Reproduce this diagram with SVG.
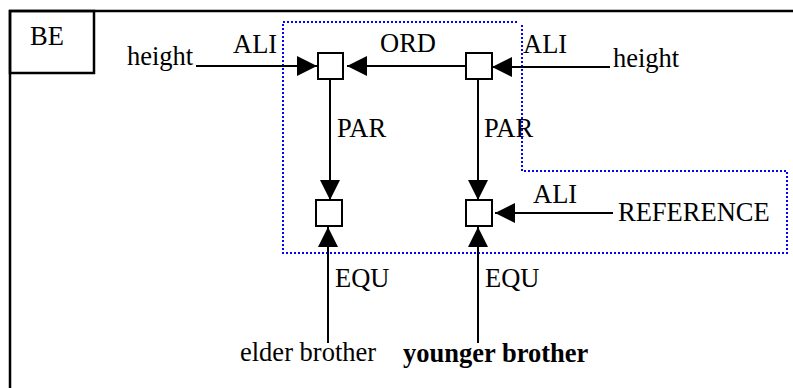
<svg xmlns="http://www.w3.org/2000/svg" width="793" height="388" viewBox="0 0 793 388">
<style>
  .t { font-family: "Liberation Serif", "Times New Roman", serif; font-size: 26.5px; fill: #000; }
  .b { font-weight: bold; }
  .box { fill: #fff; stroke: #000; stroke-width: 2; }
  .ln { stroke: #000; stroke-width: 2; fill: none; }
  .frame { stroke: #000; stroke-width: 2.5; fill: none; }
  .dot { stroke: #0000ff; stroke-width: 2; stroke-dasharray: 2 2; fill: none; }
</style>
<defs>
  <marker id="ah" markerUnits="userSpaceOnUse" markerWidth="20" markerHeight="20" viewBox="0 0 20 20" refX="20" refY="10" orient="auto">
    <path d="M0,0 L20,10 L0,20 Z" fill="#000"/>
  </marker>
</defs>
<rect width="793" height="388" fill="#fff"/>
<g id="frame">
  <path class="frame" d="M10,388 V11 H793"/>
  <rect class="frame" x="10" y="11" width="84" height="62" fill="none"/>
  <text class="t" x="30" y="45">BE</text>
</g>
<g id="scope">
  <path class="dot" d="M522,25 V171 H787 V253 H283 V22 H517"/>
</g>
<g id="connectors">
  <line class="ln" x1="196" y1="66" x2="317" y2="66" marker-end="url(#ah)"/>
  <line class="ln" x1="466" y1="66" x2="347" y2="66" marker-end="url(#ah)"/>
  <line class="ln" x1="610" y1="67" x2="492" y2="67" marker-end="url(#ah)"/>
  <line class="ln" x1="330" y1="79" x2="330" y2="200" marker-end="url(#ah)"/>
  <line class="ln" x1="478" y1="79" x2="478" y2="200" marker-end="url(#ah)"/>
  <line class="ln" x1="613" y1="213" x2="495" y2="213" marker-end="url(#ah)"/>
  <line class="ln" x1="328" y1="343" x2="328" y2="227" marker-end="url(#ah)"/>
  <line class="ln" x1="478" y1="343" x2="478" y2="227" marker-end="url(#ah)"/>
  <text class="t" x="233" y="53">ALI</text>
  <text class="t" x="380" y="52">ORD</text>
  <text class="t" x="523" y="53">ALI</text>
  <text class="t" x="337" y="137">PAR</text>
  <text class="t" x="484" y="137">PAR</text>
  <text class="t" x="533" y="203">ALI</text>
  <text class="t" x="335" y="287">EQU</text>
  <text class="t" x="485" y="287">EQU</text>
</g>
<g id="n-height-left"><text class="t" x="127" y="65">height</text></g>
<g id="n-height-right"><text class="t" x="613" y="67">height</text></g>
<g id="n-ul"><rect class="box" x="318" y="53" width="25" height="26"/></g>
<g id="n-ur"><rect class="box" x="466" y="53" width="26" height="26"/></g>
<g id="n-ll"><rect class="box" x="316" y="200" width="26" height="26"/></g>
<g id="n-lr"><rect class="box" x="466" y="200" width="26" height="26"/></g>
<g id="n-reference"><text class="t" x="618" y="221">REFERENCE</text></g>
<g id="n-elder"><text class="t" x="240" y="361">elder brother</text></g>
<g id="n-younger"><text class="t b" x="403" y="362">younger brother</text></g>
</svg>
